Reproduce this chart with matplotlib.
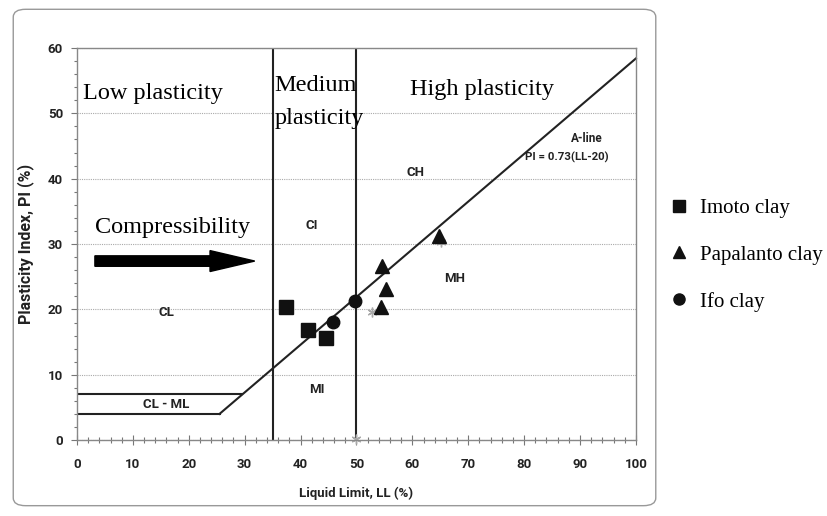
import matplotlib.pyplot as plt
from matplotlib.patches import FancyBboxPatch, FancyArrow
from matplotlib.lines import Line2D
from matplotlib.ticker import MultipleLocator

# Soil samples (liquid limit, plasticity index)
imoto_ll = [37.4, 41.3, 44.6]
imoto_pi = [20.3, 16.8, 15.6]
papalanto_ll = [54.6, 55.3, 54.4, 64.8]
papalanto_pi = [26.6, 23.1, 20.4, 31.2]
ifo_ll = [45.8, 49.8]
ifo_pi = [18.1, 21.3]
extra_ll = [52.8, 65.2, 50.0]
extra_pi = [19.6, 30.3, 0.2]

# A-line and CL-ML band
aline_ll = [25.5, 100]
cl_ml_low = [[0, 25.5], [4, 4]]
cl_ml_high = [[0, 29.6], [7, 7]]
ll_bounds = [35, 50]

fig = plt.figure(figsize=(8.28, 5.16), dpi=100)

# rounded frame round the chart
box = FancyBboxPatch((0.016, 0.02), 0.776, 0.962, boxstyle="round,pad=0,rounding_size=0.015",
                     transform=fig.transFigure, facecolor="white", edgecolor="#999999", lw=1.0,
                     zorder=-10)
fig.patches.append(box)

ax = fig.add_axes([0.093, 0.147, 0.675, 0.76])
ax.set_facecolor("none")

sans = "Roboto"
serif = "Liberation Serif"

ax.set_xlim(0, 100)
ax.set_ylim(0, 60)
ax.xaxis.set_major_locator(MultipleLocator(10))
ax.xaxis.set_minor_locator(MultipleLocator(2))
ax.yaxis.set_major_locator(MultipleLocator(10))
ax.yaxis.set_minor_locator(MultipleLocator(2))
ax.tick_params(which="both", color="#777777", width=0.8)
ax.tick_params(axis="x", which="major", direction="inout", length=7, pad=9)
ax.tick_params(axis="x", which="minor", direction="inout", length=4)
ax.tick_params(axis="y", which="major", direction="out", length=4, pad=6)
ax.tick_params(axis="y", which="minor", direction="out", length=2.5)
for lab in ax.get_xticklabels() + ax.get_yticklabels():
    lab.set_fontfamily(sans)
    lab.set_fontweight("bold")
    lab.set_fontsize(9.5)
    lab.set_color("#222222")
for s in ax.spines.values():
    s.set_color("#888888")
    s.set_linewidth(1.0)

ax.yaxis.grid(True, linestyle=(0, (1, 1)), color="#aaaaaa", lw=0.8)
ax.set_axisbelow(True)

ax.set_xlabel("Liquid Limit, LL (%)", fontfamily=sans, fontweight="bold", fontsize=9.5,
              labelpad=12, color="#222222")
ax.set_ylabel("Plasticity Index, PI (%)", fontfamily=sans, fontweight="bold", fontsize=11.5,
              labelpad=10, color="#222222")

# chart lines
aline_pi = [0.73 * (v - 20) for v in aline_ll]
ax.plot(aline_ll, aline_pi, color="#222222", lw=1.5, clip_on=False)
ax.plot(cl_ml_low[0], cl_ml_low[1], color="#222222", lw=1.5)
ax.plot(cl_ml_high[0], cl_ml_high[1], color="#222222", lw=1.5)
for b in ll_bounds:
    ax.axvline(b, color="#222222", lw=1.5)

# arrow
ax.add_patch(FancyArrow(3.2, 27.4, 28.6, 0, width=1.6, head_width=3.2, head_length=8,
                        length_includes_head=True, color="black"))

# zone labels
ax.text(1.0, 53, "Low plasticity", fontfamily=serif, fontsize=17.5, va="center")
ax.text(35.3, 54.2, "Medium", fontfamily=serif, fontsize=17.5, va="center")
ax.text(35.3, 49.2, "plasticity", fontfamily=serif, fontsize=17.5, va="center")
ax.text(59.5, 53.6, "High plasticity", fontfamily=serif, fontsize=17.5, va="center")
ax.text(3.2, 32.5, "Compressibility", fontfamily=serif, fontsize=17.5, va="center")

for x, y, t in [(16, 19.6, "CL"), (42, 32.9, "CI"), (60.5, 41.0, "CH"), (67.5, 24.8, "MH"),
                (43, 7.8, "MI"), (16, 5.5, "CL - ML")]:
    ax.text(x, y, t, fontfamily=sans, fontweight="bold", fontsize=9.5, ha="center", va="center",
            color="#222222")
ax.text(91.3, 46.2, "A-line", fontfamily=sans, fontweight="bold", fontsize=8.5, ha="center",
        va="center", color="#222222")
ax.text(87.6, 43.3, "PI = 0.73(LL-20)", fontfamily=sans, fontweight="bold", fontsize=8.2,
        ha="center", va="center", color="#222222")

# samples
ax.plot(extra_ll, extra_pi, ls="none", marker=(6, 2, 0), ms=7, color="#aaaaaa", clip_on=False)
ax.plot(imoto_ll, imoto_pi, ls="none", marker="s", ms=10, color="#111111")
ax.plot(papalanto_ll, papalanto_pi, ls="none", marker="^", ms=9.5, color="#111111")
ax.plot(ifo_ll, ifo_pi, ls="none", marker="o", ms=9, color="#111111")

handles = [
    Line2D([], [], ls="none", marker="s", ms=9, color="#111111"),
    Line2D([], [], ls="none", marker="^", ms=9, color="#111111"),
    Line2D([], [], ls="none", marker="o", ms=8, color="#111111"),
]
fig.legend(handles, ["Imoto clay", "Papalanto clay", "Ifo clay"], loc="upper left",
           bbox_to_anchor=(0.785, 0.652), frameon=False, prop={"family": serif, "size": 15},
           labelspacing=1.3, handletextpad=0.5, handlelength=1.0)

plt.savefig("out.png", dpi=100)
